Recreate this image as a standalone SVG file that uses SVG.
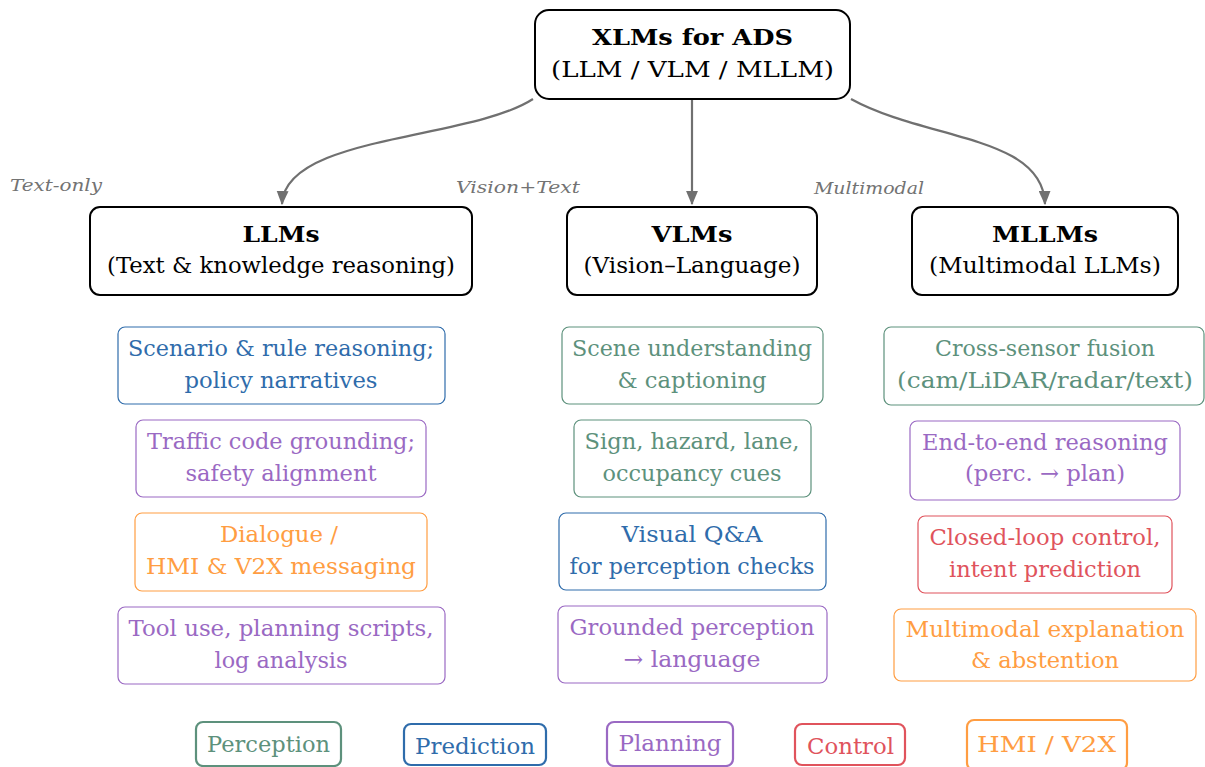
<svg xmlns="http://www.w3.org/2000/svg" width="1205" height="767" viewBox="0 0 1205 767">
  <style>
    .t { font-size: 23px; text-anchor: middle; }
    .b { font-weight: bold; }
    .lab { font-size: 17px; font-style: italic; fill: #737373; }
    .node { fill: #ffffff; stroke: #000000; stroke-width: 2; }
    .item { fill: #ffffff; stroke-width: 1.2; }
    .leg { fill: #ffffff; stroke-width: 2.2; }
    .conn { fill: none; stroke: #707070; stroke-width: 2.2; }
    .green { stroke: #5d917c; fill: #5d917c; }
    .blue { stroke: #2f6cab; fill: #2f6cab; }
    .purple { stroke: #9a69c3; fill: #9a69c3; }
    .orange { stroke: #ff9d42; fill: #ff9d42; }
    .red { stroke: #e0535c; fill: #e0535c; }
    text.green, text.blue, text.purple, text.orange, text.red { stroke: none; }
    rect.green, rect.blue, rect.purple, rect.orange, rect.red { fill: #ffffff; }
  </style>
  <defs>
    <marker id="arr" viewBox="0 0 12 10" refX="11" refY="5" markerWidth="6.5" markerHeight="5.5" orient="auto" markerUnits="strokeWidth">
      <path d="M0,0 L12,5 L0,10 z" fill="#707070"/>
    </marker>
  </defs>

  <g font-family="DejaVu Serif, Liberation Serif, serif">
  <!-- connectors -->
  <g id="connectors">
    <path class="conn" d="M533,99 C470,140 285,135 282,204" marker-end="url(#arr)"/>
    <path class="conn" d="M692,99 L692,204" marker-end="url(#arr)"/>
    <path class="conn" d="M851,99 C925,140 1043,135 1045,204" marker-end="url(#arr)"/>
    <text class="lab" x="10" y="191" textLength="92" lengthAdjust="spacingAndGlyphs">Text-only</text>
    <text class="lab" x="456" y="193" textLength="124" lengthAdjust="spacingAndGlyphs">Vision+Text</text>
    <text class="lab" x="814" y="194" textLength="110" lengthAdjust="spacingAndGlyphs">Multimodal</text>
  </g>

  <!-- root -->
  <g id="root">
    <rect class="node" x="535" y="10" width="315" height="89" rx="14"/>
    <text class="t b" x="692.5" y="45" textLength="201" lengthAdjust="spacingAndGlyphs">XLMs for ADS</text>
    <text class="t" x="692.5" y="77" textLength="283" lengthAdjust="spacingAndGlyphs">(LLM / VLM / MLLM)</text>
  </g>

  <!-- model families -->
  <g id="llms">
    <rect class="node" x="90" y="207" width="382" height="88" rx="10"/>
    <text class="t b" x="281" y="242" textLength="77" lengthAdjust="spacingAndGlyphs">LLMs</text>
    <text class="t" x="281" y="273" textLength="348" lengthAdjust="spacingAndGlyphs">(Text &amp; knowledge reasoning)</text>
  </g>
  <g id="vlms">
    <rect class="node" x="567" y="207" width="250" height="88" rx="10"/>
    <text class="t b" x="692" y="242" textLength="81" lengthAdjust="spacingAndGlyphs">VLMs</text>
    <text class="t" x="692" y="273" textLength="217" lengthAdjust="spacingAndGlyphs">(Vision–Language)</text>
  </g>
  <g id="mllms">
    <rect class="node" x="912" y="207" width="266" height="88" rx="10"/>
    <text class="t b" x="1045" y="242" textLength="106" lengthAdjust="spacingAndGlyphs">MLLMs</text>
    <text class="t" x="1045" y="273" textLength="232" lengthAdjust="spacingAndGlyphs">(Multimodal LLMs)</text>
  </g>

  <!-- LLM capabilities -->
  <g id="llm-scenario">
    <rect class="item blue" x="118" y="327" width="327" height="77" rx="7"/>
    <text class="t blue" x="281" y="356" textLength="306" lengthAdjust="spacingAndGlyphs">Scenario &amp; rule reasoning;</text>
    <text class="t blue" x="281" y="388" textLength="193" lengthAdjust="spacingAndGlyphs">policy narratives</text>
  </g>
  <g id="llm-traffic">
    <rect class="item purple" x="136" y="420" width="290" height="77" rx="7"/>
    <text class="t purple" x="281" y="449" textLength="268" lengthAdjust="spacingAndGlyphs">Traffic code grounding;</text>
    <text class="t purple" x="281" y="481" textLength="191" lengthAdjust="spacingAndGlyphs">safety alignment</text>
  </g>
  <g id="llm-dialogue">
    <rect class="item orange" x="135" y="513" width="292" height="78" rx="7"/>
    <text class="t orange" x="279" y="542" textLength="118" lengthAdjust="spacingAndGlyphs">Dialogue /</text>
    <text class="t orange" x="281" y="574" textLength="270" lengthAdjust="spacingAndGlyphs">HMI &amp; V2X messaging</text>
  </g>
  <g id="llm-tools">
    <rect class="item purple" x="118" y="607" width="327" height="77" rx="7"/>
    <text class="t purple" x="281" y="636" textLength="305" lengthAdjust="spacingAndGlyphs">Tool use, planning scripts,</text>
    <text class="t purple" x="281" y="668" textLength="133" lengthAdjust="spacingAndGlyphs">log analysis</text>
  </g>

  <!-- VLM capabilities -->
  <g id="vlm-scene">
    <rect class="item green" x="562" y="327" width="261" height="77" rx="7"/>
    <text class="t green" x="692" y="356" textLength="240" lengthAdjust="spacingAndGlyphs">Scene understanding</text>
    <text class="t green" x="692" y="388" textLength="149" lengthAdjust="spacingAndGlyphs">&amp; captioning</text>
  </g>
  <g id="vlm-cues">
    <rect class="item green" x="574" y="420" width="237" height="77" rx="7"/>
    <text class="t green" x="692" y="449" textLength="215" lengthAdjust="spacingAndGlyphs">Sign, hazard, lane,</text>
    <text class="t green" x="692" y="481" textLength="179" lengthAdjust="spacingAndGlyphs">occupancy cues</text>
  </g>
  <g id="vlm-vqa">
    <rect class="item blue" x="559" y="513" width="267" height="77" rx="7"/>
    <text class="t blue" x="692" y="542" textLength="141" lengthAdjust="spacingAndGlyphs">Visual Q&amp;A</text>
    <text class="t blue" x="692" y="574" textLength="245" lengthAdjust="spacingAndGlyphs">for perception checks</text>
  </g>
  <g id="vlm-grounded">
    <rect class="item purple" x="558" y="606" width="269" height="77" rx="7"/>
    <text class="t purple" x="692" y="635" textLength="245" lengthAdjust="spacingAndGlyphs">Grounded perception</text>
    <text class="t purple" x="692" y="667" textLength="137" lengthAdjust="spacingAndGlyphs">→ language</text>
  </g>

  <!-- MLLM capabilities -->
  <g id="mllm-fusion">
    <rect class="item green" x="884" y="327" width="320" height="78" rx="7"/>
    <text class="t green" x="1045" y="356" textLength="220" lengthAdjust="spacingAndGlyphs">Cross-sensor fusion</text>
    <text class="t green" x="1045" y="388" textLength="296" lengthAdjust="spacingAndGlyphs">(cam/LiDAR/radar/text)</text>
  </g>
  <g id="mllm-e2e">
    <rect class="item purple" x="910" y="421" width="270" height="79" rx="7"/>
    <text class="t purple" x="1045" y="450" textLength="246" lengthAdjust="spacingAndGlyphs">End-to-end reasoning</text>
    <text class="t purple" x="1045" y="481" textLength="160" lengthAdjust="spacingAndGlyphs">(perc. → plan)</text>
  </g>
  <g id="mllm-control">
    <rect class="item red" x="918" y="516" width="254" height="77" rx="7"/>
    <text class="t red" x="1045" y="545" textLength="231" lengthAdjust="spacingAndGlyphs">Closed-loop control,</text>
    <text class="t red" x="1045" y="577" textLength="192" lengthAdjust="spacingAndGlyphs">intent prediction</text>
  </g>
  <g id="mllm-explain">
    <rect class="item orange" x="894" y="609" width="302" height="72" rx="7"/>
    <text class="t orange" x="1045" y="637" textLength="279" lengthAdjust="spacingAndGlyphs">Multimodal explanation</text>
    <text class="t orange" x="1045" y="668" textLength="148" lengthAdjust="spacingAndGlyphs">&amp; abstention</text>
  </g>

  <!-- legend -->
  <g id="legend-perception">
    <rect class="leg green" x="196" y="722" width="145" height="44" rx="7"/>
    <text class="t green" x="268.5" y="752" textLength="123" lengthAdjust="spacingAndGlyphs">Perception</text>
  </g>
  <g id="legend-prediction">
    <rect class="leg blue" x="404" y="724" width="142" height="41" rx="7"/>
    <text class="t blue" x="475" y="754" textLength="120" lengthAdjust="spacingAndGlyphs">Prediction</text>
  </g>
  <g id="legend-planning">
    <rect class="leg purple" x="607" y="722" width="126" height="44" rx="7"/>
    <text class="t purple" x="670" y="751" textLength="103" lengthAdjust="spacingAndGlyphs">Planning</text>
  </g>
  <g id="legend-control">
    <rect class="leg red" x="795" y="724" width="110" height="41" rx="7"/>
    <text class="t red" x="850.5" y="754" textLength="87" lengthAdjust="spacingAndGlyphs">Control</text>
  </g>
  <g id="legend-hmi">
    <rect class="leg orange" x="967" y="720" width="160" height="50" rx="7"/>
    <text class="t orange" x="1046.5" y="752" textLength="139" lengthAdjust="spacingAndGlyphs">HMI / V2X</text>
  </g>
  </g>
</svg>
